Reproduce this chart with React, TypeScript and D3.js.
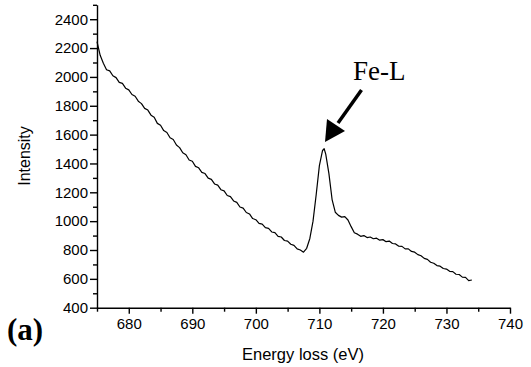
import { useEffect, useRef } from "react";
import * as d3 from "d3";

// EELS spectrum
const ENERGY = [
  675, 675.5, 676, 676.5, 677, 677.5, 678, 678.5, 679, 679.5,
  680, 680.5, 681, 681.5, 682, 682.5, 683, 683.5, 684, 684.5,
  685, 685.5, 686, 686.5, 687, 687.5, 688, 688.5, 689, 689.5,
  690, 690.5, 691, 691.5, 692, 692.5, 693, 693.5, 694, 694.5,
  695, 695.5, 696, 696.5, 697, 697.5, 698, 698.5, 699, 699.5,
  700, 700.5, 701, 701.5, 702, 702.5, 703, 703.5, 704, 704.5,
  705, 705.5, 706, 706.5, 707, 707.5, 708, 708.5, 709, 709.5,
  710, 710.5, 710.75, 711, 711.5, 712, 712.5, 713, 713.5, 714, 714.5,
  715, 715.5, 716, 716.5, 717, 717.5, 718, 718.5, 719, 719.5,
  720, 720.5, 721, 721.5, 722, 722.5, 723, 723.5, 724, 724.5,
  725, 725.5, 726, 726.5, 727, 727.5, 728, 728.5, 729, 729.5,
  730, 730.5, 731, 731.5, 732, 732.5, 733, 733.5, 734,
];

const INTENSITY = [
  2245, 2150, 2095, 2050, 2042, 2008, 1995, 1962, 1955, 1922,
  1910, 1878, 1866, 1832, 1815, 1782, 1770, 1735, 1720, 1678,
  1665, 1628, 1615, 1578, 1566, 1528, 1510, 1474, 1460, 1424,
  1415, 1380, 1370, 1338, 1330, 1298, 1290, 1258, 1250, 1218,
  1210, 1178, 1170, 1140, 1130, 1098, 1090, 1060, 1050, 1018,
  1010, 985, 980, 955, 950, 925, 920, 895, 890, 866,
  862, 840, 832, 808, 800, 785, 812, 880, 1000, 1185,
  1385, 1490, 1502, 1465, 1330, 1150, 1062, 1040, 1028, 1032, 1008,
  962, 920, 910, 895, 900, 886, 890, 878, 882, 868,
  872, 858, 862, 845, 842, 826, 825, 808, 808, 790,
  785, 768, 760, 742, 735, 715, 708, 692, 688, 672,
  668, 652, 650, 632, 630, 612, 610, 588, 592,
];

const Y_TICKS = [400, 600, 800, 1000, 1200, 1400, 1600, 1800, 2000, 2200, 2400];
const Y_MINOR = [500, 700, 900, 1100, 1300, 1500, 1700, 1900, 2100, 2300, 2500];
const X_TICKS = [680, 690, 700, 710, 720, 730, 740];
const X_MINOR = [675, 685, 695, 705, 715, 725, 735];

const SANS = "'Liberation Sans', Arial, sans-serif";
const SERIF = "'Liberation Serif', 'Times New Roman', serif";

export default function App() {
  const svgRef = useRef<SVGSVGElement>(null);

  useEffect(() => {
    const svg = d3.select(svgRef.current);
    svg.selectAll("*").remove();

    const W = 531;
    const H = 367;
    svg.attr("width", W).attr("height", H);

    const x = d3.scaleLinear().domain([675, 740]).range([97, 510]);
    const y = d3.scaleLinear().domain([400, 2500]).range([307.7, 4.8]);
    const fmt = d3.format("d");

    // spectrum
    const pts = ENERGY.map((e, i) => [e, INTENSITY[i]] as [number, number]);
    svg
      .append("path")
      .datum(pts)
      .attr("fill", "none")
      .attr("stroke", "#000")
      .attr("stroke-width", 1.2)
      .attr("stroke-linejoin", "round")
      .attr("d", d3.line<[number, number]>().x((d) => x(d[0])).y((d) => y(d[1])));

    // minor ticks
    svg
      .append("g")
      .attr("transform", `translate(${x.range()[0]},0)`)
      .call(d3.axisLeft(y).tickValues(Y_MINOR).tickSize(4).tickSizeOuter(0).tickFormat(() => ""))
      .call((g) => g.select(".domain").remove());
    svg
      .append("g")
      .attr("transform", `translate(0,${y.range()[0]})`)
      .call(d3.axisBottom(x).tickValues(X_MINOR).tickSize(4).tickSizeOuter(0).tickFormat(() => ""))
      .call((g) => g.select(".domain").remove());

    // y axis
    const gy = svg
      .append("g")
      .attr("transform", `translate(${x.range()[0]},0)`)
      .call(
        d3.axisLeft(y).tickValues(Y_TICKS).tickSize(7).tickSizeOuter(0).tickPadding(2)
          .tickFormat((d) => fmt(d as number))
      );
    gy.selectAll("text").attr("font-family", SANS).attr("font-size", 15).attr("fill", "#000");

    // x axis
    const gx = svg
      .append("g")
      .attr("transform", `translate(0,${y.range()[0]})`)
      .call(
        d3.axisBottom(x).tickValues(X_TICKS).tickSize(6).tickSizeOuter(0).tickPadding(5)
          .tickFormat((d) => fmt(d as number))
      );
    gx.selectAll("text").attr("font-family", SANS).attr("font-size", 15).attr("fill", "#000");

    svg.selectAll(".domain, .tick line").attr("stroke", "#000").attr("stroke-width", 1.4);

    // axis titles
    svg
      .append("text")
      .attr("transform", `translate(30,156) rotate(-90)`)
      .attr("text-anchor", "middle")
      .attr("font-family", SANS)
      .attr("font-size", 16)
      .text("Intensity");
    svg
      .append("text")
      .attr("x", 303)
      .attr("y", 360)
      .attr("text-anchor", "middle")
      .attr("font-family", SANS)
      .attr("font-size", 16.5)
      .text("Energy loss (eV)");

    // panel label
    svg
      .append("text")
      .attr("x", 7)
      .attr("y", 340)
      .attr("font-family", SERIF)
      .attr("font-weight", "bold")
      .attr("font-size", 31)
      .text("(a)");

    // annotation
    svg
      .append("text")
      .attr("x", 353)
      .attr("y", 80)
      .attr("font-family", SERIF)
      .attr("font-size", 27)
      .text("Fe-L");
    svg
      .append("line")
      .attr("x1", 361.5)
      .attr("y1", 90)
      .attr("x2", 338)
      .attr("y2", 123)
      .attr("stroke", "#000")
      .attr("stroke-width", 3.5);
    svg
      .append("path")
      .attr("d", "M325,142 L327,119 L345,131 Z")
      .attr("fill", "#000");
  }, []);

  return (
    <svg
      ref={svgRef}
      style={{ position: "absolute", left: 0, top: 0, background: "#fff" }}
    />
  );
}
